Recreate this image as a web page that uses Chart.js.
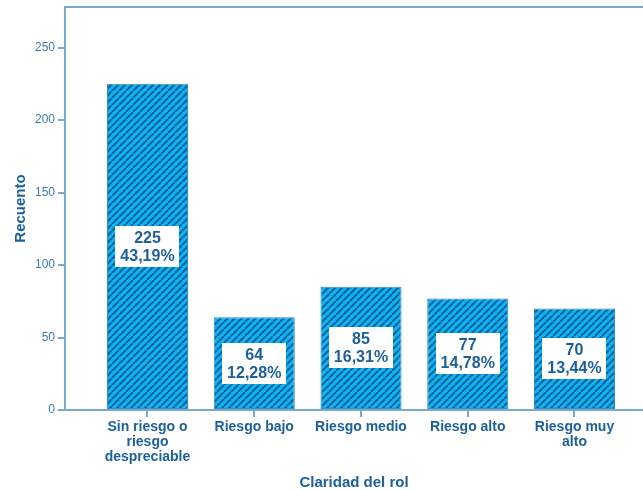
<!DOCTYPE html>
<html>
<head>
<meta charset="utf-8">
<script src="https://cdn.jsdelivr.net/npm/chart.js@4/dist/chart.umd.min.js"></script>
<style>
  html, body { margin: 0; padding: 0; background: #fff; }
  #wrap { width: 643px; height: 490px; }
</style>
</head>
<body>
<div id="wrap"><canvas id="rolChart" width="643" height="490"></canvas></div>
<script>
// Claridad del rol - counts per category
const categories = [['Sin riesgo o', 'riesgo', 'despreciable'], 'Riesgo bajo', 'Riesgo medio', 'Riesgo alto', ['Riesgo muy', 'alto']];
const counts = [225, 64, 85, 77, 70];
const yTicks = [0, 50, 100, 150, 200, 250];

const axisColor = '#78aad0';
const tickTextColor = '#3b7bb2';
const labelColor = '#1d619c';
const barLight = '#0cb5f6';
const barDark = '#0c6399';

const total = counts.reduce((a, b) => a + b, 0);
const pct = v => (v / total * 100).toFixed(2).replace('.', ',') + '%';

// diagonal hatch used as bar fill
function makeHatch() {
    const s = 7;
    const c = document.createElement('canvas');
    c.width = s; c.height = s;
    const g = c.getContext('2d');
    g.fillStyle = barLight;
    g.fillRect(0, 0, s, s);
    g.strokeStyle = barDark;
    g.lineWidth = 2;
    g.beginPath();
    for (let k = -1; k <= 1; k++) {
        g.moveTo(k * s, s);
        g.lineTo(k * s + s, 0);
    }
    g.stroke();
    return g.createPattern(c, 'repeat');
}

const frameTop = {
    id: 'frameTop',
    afterDraw(chart) {
        const { ctx, chartArea } = chart;
        ctx.save();
        ctx.strokeStyle = axisColor;
        ctx.lineWidth = 2;
        ctx.beginPath();
        ctx.moveTo(chartArea.left - 1, chartArea.top);
        ctx.lineTo(chart.width, chartArea.top);
        ctx.stroke();
        ctx.restore();
    }
};

// white boxes with count and percentage in the middle of each bar
const barLabels = {
    id: 'barLabels',
    afterDatasetsDraw(chart) {
        const { ctx } = chart;
        const meta = chart.getDatasetMeta(0);
        ctx.save();
        meta.data.forEach((bar, i) => {
            const cx = bar.x;
            const cy = (bar.y + bar.base) / 2;
            const w = 64, h = 41;
            ctx.fillStyle = '#fff';
            ctx.fillRect(Math.round(cx - w / 2), Math.round(cy - h / 2), w, h);
            ctx.fillStyle = labelColor;
            ctx.font = 'bold 16px "Liberation Sans", Arial, sans-serif';
            ctx.textAlign = 'center';
            ctx.textBaseline = 'middle';
            ctx.fillText(String(counts[i]), cx, cy - 8);
            ctx.fillText(pct(counts[i]), cx, cy + 10);
        });
        ctx.restore();
    }
};

const ctx = document.getElementById('rolChart').getContext('2d');
new Chart(ctx, {
    type: 'bar',
    data: {
        datasets: [{
            label: 'Recuento',
            data: counts.map((v, i) => ({ x: i, y: v })),
            backgroundColor: makeHatch(),
            borderColor: '#3a8cc8',
            borderWidth: 1,
            borderSkipped: false,
            barPercentage: 0.759,
            categoryPercentage: 1
        }]
    },
    options: {
        responsive: false,
        animation: false,
        layout: { padding: { top: 7, left: 0, right: 0, bottom: 0 } },
        plugins: {
            legend: { display: false },
            tooltip: { enabled: false }
        },
        scales: {
            x: {
                type: 'linear',
                min: -0.7728,
                max: 4.6417,
                offset: false,
                afterBuildTicks: s => { s.ticks = categories.map((c, i) => ({ value: i })); },
                afterFit: s => { s.height = 80; s.paddingLeft = 0; s.paddingRight = 0; },
                border: { color: axisColor, width: 2 },
                grid: { drawOnChartArea: false, offset: false, color: axisColor, lineWidth: 2, tickLength: 7, tickColor: axisColor },
                ticks: {
                    autoSkip: false,
                    maxRotation: 0,
                    padding: 3,
                    color: labelColor,
                    font: { family: '"Liberation Sans", Arial, sans-serif', size: 14, weight: 'bold', lineHeight: 1.05 },
                    callback: v => categories[v]
                },
                title: {
                    display: true,
                    text: 'Claridad del rol',
                    color: labelColor,
                    padding: 0,
                    font: { family: '"Liberation Sans", Arial, sans-serif', size: 15, weight: 'bold', lineHeight: 1 }
                }
            },
            y: {
                min: 0,
                max: 278,
                afterBuildTicks: s => { s.ticks = yTicks.map(v => ({ value: v })); },
                afterFit: s => { s.width = 65; s.paddingTop = 0; s.paddingBottom = 0; },
                border: { color: axisColor, width: 2 },
                grid: { drawOnChartArea: false, color: axisColor, lineWidth: 2, tickLength: 7, tickColor: axisColor },
                ticks: {
                    padding: 3,
                    color: tickTextColor,
                    font: { family: '"Liberation Sans", Arial, sans-serif', size: 12 }
                },
                title: {
                    display: true,
                    text: 'Recuento',
                    color: labelColor,
                    padding: { top: 12, bottom: 0 },
                    font: { family: '"Liberation Sans", Arial, sans-serif', size: 15, weight: 'bold', lineHeight: 1.2 }
                }
            }
        }
    },
    plugins: [frameTop, barLabels]
});
</script>
</body>
</html>
